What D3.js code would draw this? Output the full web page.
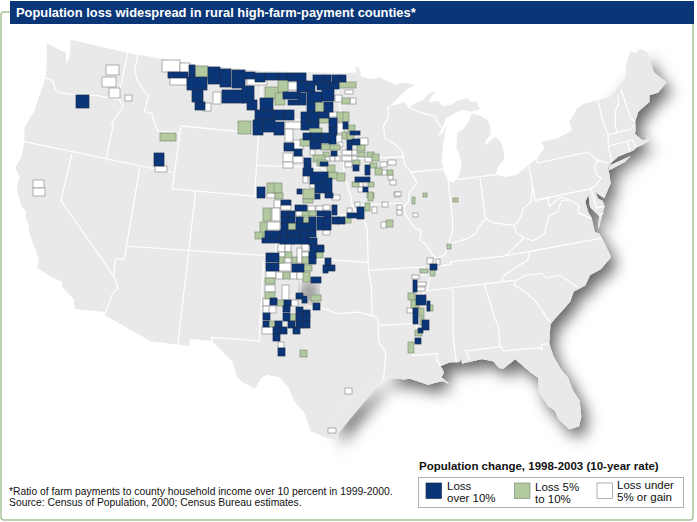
<!DOCTYPE html>
<html>
<head>
<meta charset="utf-8">
<script src="https://cdn.jsdelivr.net/npm/d3@7"></script>
<style>
  html, body { margin: 0; padding: 0; background: #fff; }
  text { font-family: "Liberation Sans", Arial, sans-serif; fill: #111; }
</style>
</head>
<body>
<div id="chart-area"></div>
<script>
const WIDTH = 697
const HEIGHT = 522

const titleText = "Population loss widespread in rural high-farm-payment counties*"
const legendTitle = "Population change, 1998-2003 (10-year rate)"
const footnotes = [
  "*Ratio of farm payments to county household income over 10 percent in 1999-2000.",
  "Source:  Census of Population, 2000; Census Bureau estimates."
]
const legendLabels = [["Loss", "over 10%"], ["Loss 5%", "to 10%"], ["Loss under", "5% or gain"]]

// lon/lat outline of the lower 48
const landOutline = [[-122.76,49],[-117,49],[-110,49],[-104,49],[-97.2,49],[-95.15,49],[-95.15,49.38],[-94.82,49.32],[-94.64,48.74],[-93.8,48.55],[-92.95,48.62],[-92,48.3],[-91.4,48.07],[-90.8,48.2],[-89.6,48],[-90.5,47.7],[-91.3,47.25],[-92.1,46.75],[-91.2,46.87],[-90.75,46.95],[-90.4,46.57],[-89.8,46.82],[-89,46.98],[-88.45,47.35],[-87.8,47.47],[-88.4,46.95],[-88.45,46.78],[-87.6,46.83],[-87.38,46.5],[-86.6,46.45],[-85.9,46.68],[-85,46.77],[-84.6,46.47],[-84.1,46.5],[-84.1,46.2],[-83.9,45.97],[-84.7,45.88],[-85.5,46.08],[-86.3,45.93],[-86.7,45.75],[-87,45.75],[-87.6,45.1],[-88,44.55],[-87.4,44.9],[-87.1,45.25],[-87.5,44.4],[-87.75,43.6],[-87.9,43],[-87.8,42.4],[-87.55,41.75],[-87.2,41.63],[-86.8,41.77],[-86.5,42.1],[-86.2,42.7],[-86.3,43.3],[-86.5,43.7],[-86.25,44.7],[-85.6,44.9],[-85.5,45],[-85,45.4],[-84.75,45.78],[-84.2,45.63],[-83.4,45.2],[-83.3,44.85],[-83.3,44.3],[-83.9,43.9],[-83.9,43.65],[-83.4,43.93],[-82.95,44.07],[-82.6,43.8],[-82.42,43],[-82.5,42.6],[-83.1,42.25],[-83.45,41.73],[-82.7,41.5],[-81.7,41.5],[-80.5,41.98],[-79.76,42.27],[-78.9,42.85],[-79.05,43.27],[-77.6,43.27],[-76.5,43.5],[-76.2,43.6],[-76.3,44.1],[-75.3,44.85],[-74.7,45],[-71.5,45.01],[-71.3,45.3],[-70.85,45.25],[-70.4,45.8],[-70.25,46.2],[-70,46.7],[-69.23,47.46],[-68.9,47.2],[-68.3,47.36],[-67.8,47.07],[-67.8,45.7],[-67.45,45.3],[-67,44.85],[-68,44.4],[-68.8,44.4],[-69,44],[-69.8,43.75],[-70.2,43.6],[-70.7,43.07],[-70.8,42.7],[-71,42.35],[-70.7,41.95],[-70.5,41.78],[-70,41.78],[-70.1,42.05],[-69.95,41.7],[-70.65,41.55],[-71.2,41.5],[-71.5,41.37],[-72.9,41.25],[-73.65,40.98],[-74,40.7],[-74,40.45],[-74.1,39.75],[-74.9,38.95],[-75.4,39.35],[-75.55,39.6],[-75.4,39],[-75.1,38.8],[-75.05,38.45],[-75.95,37.15],[-75.65,37.95],[-76.2,38.6],[-76.1,39.4],[-76.5,39],[-76.45,38.3],[-76.3,37.9],[-76.3,37],[-75.97,36.85],[-75.75,36.2],[-75.5,35.25],[-76.5,34.65],[-77.4,34.45],[-77.95,33.87],[-78.9,33.65],[-79.3,33.1],[-79.9,32.7],[-80.7,32.2],[-81.1,31.9],[-81.3,31.2],[-81.45,30.7],[-81.3,29.9],[-80.95,29],[-80.55,28.4],[-80.35,27.5],[-80.03,26.8],[-80.12,25.8],[-80.4,25.2],[-81.1,25.13],[-81.7,25.9],[-81.85,26.45],[-82.25,26.8],[-82.75,27.8],[-82.65,28.7],[-83.1,29.1],[-83.6,29.6],[-84.1,30.1],[-84.35,29.95],[-85.05,29.6],[-85.35,29.68],[-85.7,30.15],[-86.5,30.38],[-87.5,30.28],[-88,30.23],[-88,30.65],[-88.15,30.35],[-88.9,30.4],[-89.6,30.2],[-89.45,30],[-89.4,29.75],[-89.6,29.5],[-89.1,29.05],[-89.5,29.25],[-90,29.2],[-90.6,29.1],[-91.3,29.35],[-91.85,29.55],[-92.3,29.55],[-93.8,29.7],[-94.7,29.4],[-95.3,28.9],[-96.4,28.35],[-97.1,27.8],[-97.4,27.3],[-97.35,26.6],[-97.15,25.95],[-97.5,25.87],[-98.2,26.05],[-99.1,26.4],[-99.5,27.5],[-100.3,28.3],[-100.7,29.1],[-101.4,29.77],[-102.3,29.88],[-102.7,29.7],[-103.15,28.98],[-104,29.3],[-104.5,29.65],[-104.9,30.6],[-106,31.4],[-106.53,31.78],[-108.2,31.78],[-108.2,31.33],[-111.07,31.33],[-114.8,32.5],[-114.72,32.72],[-117.12,32.53],[-117.3,33.1],[-118.4,33.75],[-118.5,34.03],[-119.2,34.15],[-120.6,34.55],[-120.65,35.15],[-121.9,36.6],[-122,36.95],[-122.5,37.5],[-122.5,37.8],[-123,38],[-123.75,39],[-123.8,39.8],[-124.35,40.3],[-124.1,41],[-124.2,42],[-124.55,42.85],[-124.1,44],[-123.95,46.2],[-124.1,46.9],[-124.7,48.38],[-123.2,48.15],[-122.75,48.15],[-122.4,47.4],[-122.3,47.9],[-122.5,48.75],[-122.76,49]]
const longIsland = [[-74,40.6],[-73.75,40.85],[-72.6,40.98],[-71.9,41.07],[-72.5,40.82],[-73.9,40.57],[-74,40.6]]

// state lines, lon/lat
const stateLines = [
  [[-124,46.25],[-123.2,46.15],[-122.8,45.7],[-122.3,45.55],[-121.2,45.65],[-120,45.8],[-119,45.93],[-116.92,46]],
  [[-117.03,49],[-117.04,46.42],[-116.92,46],[-116.47,45.6],[-116.85,45],[-117.2,44.45],[-116.95,44.2],[-117.03,43.8],[-117.03,42]],
  [[-124.2,42],[-111.05,42]],
  [[-120,42],[-120,39],[-114.63,35],[-114.15,34.3],[-114.5,33.9],[-114.72,32.72]],
  [[-114.63,35],[-114.75,36.1],[-114.05,36.2],[-114.05,42]],
  [[-114.05,37],[-94.62,37]],
  [[-109.05,41],[-109.05,31.33]],
  [[-111.05,45],[-111.05,41],[-102.05,41],[-102.05,37]],
  [[-111.05,45],[-104.05,45]],
  [[-104.05,49],[-104.05,41]],
  [[-116.05,49],[-116.05,48],[-115.7,47.45],[-114.7,46.7],[-114.35,46.65],[-114.5,45.55],[-113.8,45.5],[-113.45,44.95],[-113,44.45],[-111.5,44.55],[-111.05,44.47]],
  [[-104.05,45.94],[-96.56,45.94]],
  [[-104.05,43],[-98.5,43],[-97.9,42.8],[-97,42.75],[-96.45,42.49]],
  [[-102.05,40],[-95.3,40]],
  [[-97.2,49],[-96.85,47.6],[-96.56,45.94],[-96.85,45.5],[-96.45,45.3],[-96.45,42.49],[-96.1,41.7],[-95.9,41.2],[-95.8,40.6],[-95.3,40],[-94.9,39.8],[-94.61,39.1],[-94.62,36.5],[-94.43,35.4],[-94.48,33.64],[-95.5,33.9],[-96.6,33.85],[-97.2,33.85],[-98.1,34.13],[-99.2,34.3],[-100,34.56],[-100,36.5],[-103,36.5]],
  [[-96.45,43.5],[-91.22,43.5]],
  [[-95.77,40.58],[-91.73,40.6],[-91.42,40.38]],
  [[-94.62,36.5],[-90.15,36.5],[-90.37,36],[-89.7,36]],
  [[-103,37],[-103,32],[-106.62,32],[-106.53,31.78]],
  [[-94.48,33.64],[-94.04,33.55],[-94.04,32],[-93.55,31.2],[-93.7,30.3],[-93.8,29.7]],
  [[-94.04,33.02],[-91.17,33]],
  [[-92,46.7],[-92.3,46.65],[-92.3,46.1],[-92.8,45.5],[-92.75,44.75],[-92,44.4],[-91.3,43.9],[-91.22,43.5],[-91.15,43],[-90.65,42.5],[-90.2,41.8],[-90.95,41.2],[-91,40.75],[-91.42,40.38],[-91.4,39.9],[-90.7,39],[-90.15,38.8],[-90.35,38.2],[-89.9,37.9],[-89.5,37.3],[-89.13,36.98],[-89.4,36.5],[-89.7,36],[-90.07,35.1],[-90.3,35],[-90.6,34.6],[-91.1,33.9],[-91.17,33],[-91,32.4],[-91.4,31.6],[-91.6,31],[-89.73,31],[-89.85,30.65],[-89.6,30.2]],
  [[-88.2,35],[-88.1,34.9],[-88.45,31.9],[-88.4,30.35]],
  [[-90.3,35],[-83.1,35]],
  [[-85.6,34.98],[-85.18,32.87],[-85,32.3],[-85.05,31]],
  [[-87.45,30.4],[-87.6,31],[-85,31],[-84.86,30.7],[-82.2,30.57],[-82.05,30.37],[-82,30.75],[-81.45,30.7]],
  [[-83.1,35],[-83.35,34.7],[-82.9,34.45],[-81.9,33.5],[-81.4,32.6],[-81.1,32.05]],
  [[-83.1,35],[-82.3,35.2],[-81.05,35.15],[-80.8,34.82],[-79.67,34.8],[-78.55,33.86]],
  [[-84.32,34.99],[-84,35.4],[-83,35.8],[-82,36.1],[-81.68,36.59]],
  [[-83.68,36.6],[-75.87,36.55]],
  [[-89.4,36.5],[-88.05,36.5],[-88.05,36.68],[-83.68,36.6],[-81.97,37.54],[-82.5,37.9],[-82.6,38.42]],
  [[-90.65,42.5],[-87.8,42.5]],
  [[-90.4,46.57],[-89.1,46.13],[-88.1,45.9],[-87.8,45.35],[-87.6,45.1]],
  [[-87.53,41.75],[-87.53,39.35],[-87.6,38.7],[-87.95,38],[-88.05,37.8]],
  [[-89.13,36.98],[-88.5,37.1],[-88.05,37.8],[-87.2,37.9],[-86.5,38],[-85.8,38.25],[-85.4,38.7],[-84.8,39.1],[-84.3,38.8],[-83.7,38.65],[-82.6,38.42],[-82.2,38.6],[-81.75,39.1],[-81.7,39.3],[-80.85,39.7],[-80.52,40.64],[-80.52,42]],
  [[-84.82,39.1],[-84.8,41.75]],
  [[-86.82,41.76],[-83.45,41.73]],
  [[-79.76,42.27],[-79.76,42],[-75.35,42],[-74.7,41.36],[-75.1,40.95],[-75,40.4],[-74.75,40.2],[-75.4,39.8],[-75.79,39.72],[-80.52,39.72],[-80.52,40.64]],
  [[-74.7,41.36],[-73.9,41]],
  [[-75.79,39.72],[-75.7,38.46],[-75.05,38.45]],
  [[-75.65,37.95],[-75.25,38.03]],
  [[-79.48,39.72],[-79.48,39.2],[-78.4,39.62],[-77.72,39.32],[-77.05,38.85],[-77.25,38.4],[-76.3,37.9]],
  [[-77.72,39.32],[-78.35,39.4],[-78.87,38.77],[-79.65,38.6],[-80.3,37.55],[-81.25,37.25],[-81.97,37.54]],
  [[-73.35,45],[-73.4,43.6],[-73.25,42.75],[-73.5,42.05],[-73.5,41.3],[-73.65,41]],
  [[-71.5,45.01],[-71.6,44.5],[-72.05,44.1],[-72.45,43.2],[-72.46,42.73]],
  [[-71.08,45.3],[-70.98,43.4],[-70.7,43.07]],
  [[-73.25,42.75],[-71.3,42.7],[-70.82,42.87]],
  [[-73.5,42.05],[-71.38,42.02],[-71.2,41.5]],
  [[-71.8,42.02],[-71.85,41.32]]
]

// counties on the map grid: [col, row, cols wide, rows high]
const lossOver10 = [[189,65,6,13],[208,67,12,17],[220,69,11,18],[232,70,13,18],[245,72,10,7],[255,73,10,9],[265,73,13,7],[278,73,10,7],[288,73,18,8],[297,81,10,11],[168,72,20,6],[187,77,20,13],[192,90,11,12],[195,102,10,8],[222,90,22,13],[242,86,12,17],[247,100,10,10],[283,92,17,7],[288,100,10,5],[298,93,8,12],[260,98,13,12],[255,110,10,10],[264,110,10,10],[274,110,10,10],[284,110,10,10],[253,120,10,15],[263,120,12,12],[274,122,10,13],[284,143,10,8],[294,149,8,7],[313,75,10,10],[323,75,8,7],[332,75,7,7],[339,75,7,7],[307,81,8,11],[317,82,13,8],[330,82,9,7],[322,88,12,13],[307,92,15,10],[307,102,8,10],[324,102,9,10],[301,112,8,10],[309,112,10,10],[319,112,10,6],[301,122,8,8],[309,122,10,6],[329,118,8,9],[343,122,5,7],[329,127,8,8],[350,131,10,4],[303,133,8,7],[311,133,10,6],[321,133,8,10],[329,134,7,10],[310,139,7,10],[316,139,5,10],[347,140,5,10],[352,139,8,6],[331,151,6,5],[304,158,7,17],[320,162,8,4],[303,168,10,8],[310,172,18,12],[315,183,12,10],[325,178,7,15],[353,165,6,6],[365,165,5,10],[355,177,15,5],[363,187,5,5],[257,187,8,11],[297,189,5,5],[315,194,5,5],[325,193,8,5],
  [281,200,10,5],[281,211,7,6],[288,211,7,6],[317,211,8,5],[324,211,7,7],[332,205,5,10],[295,205,12,6],[281,217,7,6],[288,217,7,6],[296,217,7,6],[309,217,7,13],[317,217,7,13],[324,217,7,13],[332,217,7,7],[338,217,7,7],[347,213,13,5],[357,207,7,12],[281,223,7,7],[296,223,7,7],[302,223,7,7],[265,231,15,7],[280,230,7,7],[287,230,7,7],[293,230,7,7],[300,230,8,7],[308,230,8,7],[262,238,18,5],[280,237,7,7],[287,237,7,7],[293,237,7,7],[300,237,9,7],[309,238,8,7],[310,245,7,7],[317,245,7,7],[266,253,13,9],[309,252,7,7],[309,257,7,7],[325,258,6,7],[266,263,13,8],[292,264,12,8],[323,265,5,8],[328,265,7,6],[311,277,10,6],[296,293,7,6],[302,296,5,7],[313,303,7,7],[270,298,7,7],[284,300,7,6],[283,306,7,6],[296,307,7,7],[303,310,7,7],[263,313,7,7],[283,313,7,8],[296,314,7,7],[303,314,7,7],[263,321,6,6],[275,321,7,7],[288,321,7,7],[296,321,7,7],[303,321,7,7],[273,327,7,7],[280,327,7,7],[293,327,7,7],[273,334,7,7],[278,348,7,8],
  [430,264,7,6],[413,280,4,12],[416,295,10,10],[427,301,3,10],[413,308,5,16],[422,320,7,10],[418,328,5,5],[415,338,6,6],[76,95,13,13],[154,153,10,13]]

const loss5to10 = [[195,66,13,13],[265,87,15,12],[278,80,10,12],[275,93,10,12],[238,121,13,13],[339,82,17,6],[342,98,8,6],[313,102,11,10],[337,112,7,10],[343,112,6,10],[318,118,11,5],[310,128,12,5],[348,125,7,7],[342,132,5,7],[347,133,7,7],[300,139,10,7],[321,144,9,6],[330,145,10,5],[357,145,8,6],[323,152,6,5],[313,155,12,7],[358,152,7,5],[367,152,7,5],[372,154,7,7],[317,160,10,6],[328,172,10,7],[337,173,8,8],[327,165,8,7],[353,160,7,5],[370,163,7,5],[375,168,7,7],[387,170,6,5],[352,182,7,5],[368,182,6,5],[367,193,7,5],[267,183,8,10],[274,183,8,10],[275,193,8,6],[303,189,12,10],[303,199,10,4],
  [263,208,8,13],[260,222,7,15],[255,232,8,7],[302,211,7,5],[309,211,7,5],[303,217,6,6],[344,217,7,6],[288,223,8,7],[323,224,7,5],[316,252,7,6],[285,252,7,6],[278,257,6,6],[292,257,5,6],[302,257,7,7],[303,265,9,6],[283,272,7,7],[303,272,7,10],[265,278,10,6],[265,292,10,7],[311,295,10,6],[277,300,7,6],[289,314,7,7],[268,321,7,6],[300,350,7,7],[365,203,5,8],[368,192,5,9],[412,197,3,7],[423,193,4,4],[453,198,5,4],[386,220,7,7],[447,244,4,5],
  [420,269,8,4],[430,270,5,6],[408,293,7,7],[411,300,8,8],[427,305,6,6],[419,308,5,8],[420,317,4,8],[415,330,7,6],[408,342,6,11],[160,133,16,8]]

const lossUnder5 = [[162,60,18,12],[180,63,10,12],[170,77,17,8],[213,92,8,12],[203,103,8,8],[247,78,20,7],[288,82,10,8],[285,122,18,7],[285,129,8,13],[293,140,10,10],[283,153,10,9],[283,162,10,6],[293,156,10,7],[310,85,12,7],[345,90,8,4],[335,95,7,7],[350,98,6,6],[329,112,8,5],[337,123,7,10],[335,135,7,8],[338,142,5,5],[358,138,10,7],[310,150,5,5],[325,156,5,5],[330,156,5,5],[335,156,5,5],[342,150,10,5],[342,156,10,5],[352,150,5,5],[352,156,5,5],[365,157,7,5],[303,173,5,10],[345,162,7,5],[380,162,7,5],[388,160,8,5],[382,170,5,5],[388,175,5,5],[390,180,6,5],[394,192,6,5],[358,182,5,5],[358,187,5,5],[267,193,8,5],[310,183,5,5],[332,195,8,5],
  [274,200,7,8],[281,205,10,5],[272,208,8,13],[267,222,13,8],[296,211,7,5],[308,206,7,5],[316,206,7,5],[323,205,7,5],[347,208,5,5],[355,202,5,5],[323,230,7,5],[278,244,7,8],[285,244,6,8],[302,244,7,7],[297,248,5,15],[278,252,7,5],[302,252,7,5],[285,257,6,6],[278,263,13,8],[266,271,10,7],[276,272,7,7],[290,272,7,7],[297,272,7,7],[265,285,10,7],[282,285,7,15],[303,295,5,5],[263,298,7,8],[291,300,7,6],[263,306,7,7],[269,306,7,7],[262,327,12,7],[278,342,6,6],[372,207,5,6],[395,192,6,4],[397,205,5,5],[397,210,5,5],[413,213,5,4],[381,222,6,6],[382,202,6,5],
  [427,258,6,6],[436,259,4,6],[412,275,7,4],[417,282,9,4],[417,287,8,4],[407,308,6,5],[106,65,13,10],[102,77,14,10],[109,88,11,10],[125,95,7,6],[155,166,12,6],[33,180,11,8],[33,188,12,8],[345,388,7,6],[328,428,8,5]]

const svg = d3.select("#chart-area").append("svg")
  .attr("width", WIDTH)
  .attr("height", HEIGHT)
  .style("display", "block")

const defs = svg.append("defs")
const shadow = defs.append("filter").attr("id", "land-shadow")
  .attr("filterUnits", "userSpaceOnUse")
  .attr("x", 0).attr("y", 0).attr("width", WIDTH).attr("height", HEIGHT)
shadow.append("feDropShadow")
  .attr("dx", 6).attr("dy", 8)
  .attr("stdDeviation", 7.5)
  .attr("flood-color", "#000")
  .attr("flood-opacity", 0.6)

defs.append("filter").attr("id", "smudge-blur")
  .append("feGaussianBlur").attr("stdDeviation", 5)

// Frame
svg.append("rect")
  .attr("x", 1).attr("y", 12).attr("width", 692).attr("height", 508)
  .attr("rx", 3)
  .attr("fill", "none")
  .attr("stroke", "#a6c59a")
  .attr("stroke-width", 1.5)

// Map
const projection = d3.geoConicEqualArea()
  .parallels([29.5, 45.5])
  .rotate([98, 0])
  .center([0, 38.7])
  .scale(905)
  .translate([326, 236])

const path = d3.geoPath(projection)

// the shadow only falls off the Atlantic and Gulf coasts
const coastStart = landOutline.findIndex(d => d[0] === -67.8 && d[1] === 47.07)
const coastEnd = landOutline.findIndex(d => d[0] === -97.5 && d[1] === 25.87)
const coast = landOutline.slice(coastStart, coastEnd + 1)
coast.push(coast[0])

const land = svg.append("g")
land.append("path")
  .datum({ type: "MultiPolygon", coordinates: [[coast], [longIsland]] })
  .attr("d", path)
  .attr("fill", "#e9e9e9")
  .attr("filter", "url(#land-shadow)")

land.append("path")
  .datum({ type: "MultiPolygon", coordinates: [[landOutline], [longIsland]] })
  .attr("d", path)
  .attr("fill", "#e9e9e9")

land.append("path")
  .datum({ type: "MultiLineString", coordinates: stateLines })
  .attr("d", path)
  .attr("fill", "none")
  .attr("stroke", "#fff")
  .attr("stroke-width", 1.2)

// dark smudge the source map has in the Oklahoma panhandle
land.append("ellipse")
  .attr("cx", 309).attr("cy", 292).attr("rx", 9).attr("ry", 11)
  .attr("fill", "#555")
  .attr("opacity", 0.5)
  .attr("filter", "url(#smudge-blur)")

// Title
svg.append("rect")
  .attr("x", 10).attr("y", 1).attr("width", 684).attr("height", 23)
  .attr("fill", "#0a3677")
svg.append("text")
  .attr("x", 16).attr("y", 17)
  .style("font-size", "12.9px")
  .style("font-weight", "bold")
  .style("fill", "#fff")
  .text(titleText)

// Counties
const gridX = d3.scaleLinear().domain([0, 697]).range([0, WIDTH])
const gridY = d3.scaleLinear().domain([0, 522]).range([0, HEIGHT])

const classes = [
  { cells: lossUnder5, fill: "#ffffff", stroke: "#8f8f8f" },
  { cells: loss5to10, fill: "#b2c9a0", stroke: "#80917a" },
  { cells: lossOver10, fill: "#0a3677", stroke: "#1c2f52" }
]

classes.forEach(c => {
  svg.append("g").selectAll("rect")
    .data(c.cells)
    .enter().append("rect")
    .attr("x", d => gridX(d[0]))
    .attr("y", d => gridY(d[1]))
    .attr("width", d => gridX(d[2]))
    .attr("height", d => gridY(d[3]))
    .attr("fill", c.fill)
    .attr("stroke", c.stroke)
    .attr("stroke-width", 0.7)
})

// Footnotes
svg.selectAll(".note")
  .data(footnotes)
  .enter().append("text")
  .attr("class", "note")
  .attr("x", 9)
  .attr("y", (d, i) => 494.5 + i * 11.8)
  .style("font-size", "10.35px")
  .text(d => d)

// Legend
svg.append("text")
  .attr("x", 419).attr("y", 469.5)
  .style("font-size", "11.5px")
  .style("font-weight", "bold")
  .text(legendTitle)

svg.append("rect")
  .attr("x", 418.5).attr("y", 477.5).attr("width", 265).attr("height", 30)
  .attr("fill", "#fff")
  .attr("stroke", "#b0b0b0")

const legendX = [426, 514.5, 597]
const legendTextX = [447, 535, 617]
const legendTextY = [489.5, 490.5, 488.5]
const legendFill = [classes[2], classes[1], classes[0]]

legendX.forEach((x, i) => {
  svg.append("rect")
    .attr("x", x).attr("y", 483).attr("width", 15.5).attr("height", 15.5)
    .attr("fill", legendFill[i].fill)
    .attr("stroke", legendFill[i].stroke)
    .attr("stroke-width", 0.7)
  legendLabels[i].forEach((t, j) => {
    svg.append("text")
      .attr("x", legendTextX[i])
      .attr("y", legendTextY[i] + j * 12.4)
      .style("font-size", "11.5px")
      .text(t)
  })
})
</script>
</body>
</html>
